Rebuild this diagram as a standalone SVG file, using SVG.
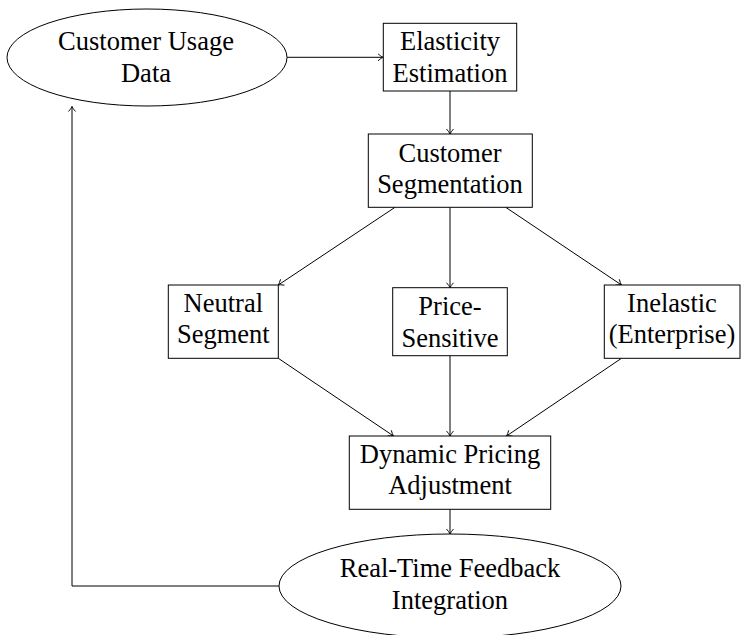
<svg xmlns="http://www.w3.org/2000/svg" width="741" height="635" viewBox="0 0 741 635">
<style>
.n{fill:#fff;stroke:#000;stroke-width:1}
.t{font-family:"Liberation Serif","Times New Roman",serif;font-size:26.5px;fill:#000;text-anchor:middle}
.c{fill:none;stroke:#000;stroke-width:1}
</style>
<defs>
<marker id="ah" viewBox="-6 -4 7 8" refX="0" refY="0" markerWidth="7" markerHeight="8" markerUnits="userSpaceOnUse" orient="auto">
<path d="M-5,-3.5 Q-2,-0.8 0,0 Q-2,0.8 -5,3.5" fill="none" stroke="#000" stroke-width="0.9"/>
</marker>
</defs>
<rect width="741" height="635" fill="#fff"/>
<g id="connectors">
<path class="c" d="M287,57.3 H383" marker-end="url(#ah)"/>
<path class="c" d="M450,91 V134" marker-end="url(#ah)"/>
<path class="c" d="M395,207.3 L278.3,285" marker-end="url(#ah)"/>
<path class="c" d="M450,207.3 V287.7" marker-end="url(#ah)"/>
<path class="c" d="M505.7,207.3 L621.5,285" marker-end="url(#ah)"/>
<path class="c" d="M278.3,358.3 L393.5,436" marker-end="url(#ah)"/>
<path class="c" d="M450,355.7 V436" marker-end="url(#ah)"/>
<path class="c" d="M621.5,358.3 L506.5,436" marker-end="url(#ah)"/>
<path class="c" d="M450,509.3 V534" marker-end="url(#ah)"/>
<path class="c" d="M279,586 H72 V106.5" marker-end="url(#ah)"/>
</g>
<g id="usage">
<ellipse class="n" cx="147" cy="57.5" rx="140" ry="48.5"/>
<text class="t" x="146" y="50">Customer Usage</text>
<text class="t" x="146" y="82.3">Data</text>
</g>
<g id="elasticity">
<rect class="n" x="383.3" y="23.3" width="133.4" height="67.7"/>
<text class="t" x="450" y="50">Elasticity</text>
<text class="t" x="450" y="81.7">Estimation</text>
</g>
<g id="segmentation">
<rect class="n" x="368.3" y="134" width="164" height="73.3"/>
<text class="t" x="450" y="161.7">Customer</text>
<text class="t" x="450" y="192.7">Segmentation</text>
</g>
<g id="neutral">
<rect class="n" x="168.3" y="285" width="110" height="73.3"/>
<text class="t" x="223.3" y="311.7">Neutral</text>
<text class="t" x="223.3" y="343.3">Segment</text>
</g>
<g id="price">
<rect class="n" x="392.7" y="287.7" width="114.6" height="68"/>
<text class="t" x="450" y="315">Price-</text>
<text class="t" x="450" y="346.7">Sensitive</text>
</g>
<g id="inelastic">
<rect class="n" x="604.3" y="285" width="135.7" height="73.3"/>
<text class="t" x="672" y="311.7">Inelastic</text>
<text class="t" x="672" y="343.3">(Enterprise)</text>
</g>
<g id="dynamic">
<rect class="n" x="349.3" y="436" width="201.4" height="73.3"/>
<text class="t" x="450" y="463.3">Dynamic Pricing</text>
<text class="t" x="450" y="494.3">Adjustment</text>
</g>
<g id="feedback">
<ellipse class="n" cx="450" cy="586" rx="171" ry="52"/>
<text class="t" x="450" y="576.7">Real-Time Feedback</text>
<text class="t" x="450" y="609">Integration</text>
</g>
</svg>
